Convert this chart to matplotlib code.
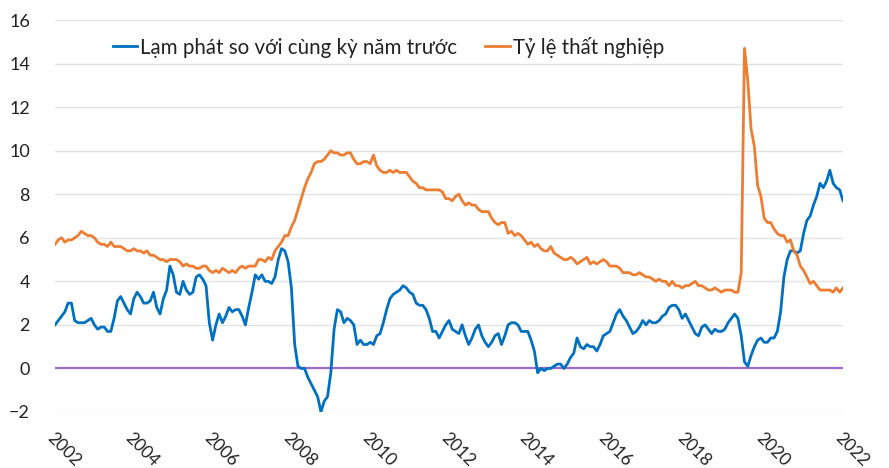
import matplotlib.pyplot as plt
import numpy as np

# Monthly data, Oct 2002 .. Oct 2022 (category axis labelled 2002..2022)
inflation = [
    2.0, 2.2, 2.4,
    2.6, 3.0, 3.0, 2.2, 2.1, 2.1, 2.1, 2.2, 2.3, 2.0, 1.8, 1.9,
    1.9, 1.7, 1.7, 2.3, 3.1, 3.3, 3.0, 2.7, 2.5, 3.2, 3.5, 3.3,
    3.0, 3.0, 3.1, 3.5, 2.8, 2.5, 3.2, 3.6, 4.7, 4.3, 3.5, 3.4,
    4.0, 3.6, 3.4, 3.5, 4.2, 4.3, 4.1, 3.8, 2.1, 1.3, 2.0, 2.5,
    2.1, 2.4, 2.8, 2.6, 2.7, 2.7, 2.4, 2.0, 2.8, 3.5, 4.3, 4.1,
    4.3, 4.0, 4.0, 3.9, 4.2, 5.0, 5.5, 5.4, 4.9, 3.7, 1.1, 0.1,
    0.0, 0.0, -0.4, -0.7, -1.0, -1.3, -2.0, -1.5, -1.3, -0.2, 1.8, 2.7,
    2.6, 2.1, 2.3, 2.2, 2.0, 1.1, 1.3, 1.1, 1.1, 1.2, 1.1, 1.5,
    1.6, 2.1, 2.7, 3.2, 3.4, 3.5, 3.6, 3.8, 3.7, 3.5, 3.4, 3.0,
    2.9, 2.9, 2.7, 2.3, 1.7, 1.7, 1.4, 1.7, 2.0, 2.2, 1.8, 1.7,
    1.6, 2.0, 1.5, 1.1, 1.4, 1.8, 2.0, 1.5, 1.2, 1.0, 1.2, 1.5,
    1.6, 1.1, 1.5, 2.0, 2.1, 2.1, 2.0, 1.7, 1.7, 1.7, 1.3, 0.8,
    -0.2, 0.0, -0.1, 0.0, 0.0, 0.1, 0.2, 0.2, 0.0, 0.2, 0.5, 0.7,
    1.4, 1.0, 0.9, 1.1, 1.0, 1.0, 0.8, 1.1, 1.5, 1.6, 1.7, 2.1,
    2.5, 2.7, 2.4, 2.2, 1.9, 1.6, 1.7, 1.9, 2.2, 2.0, 2.2, 2.1,
    2.1, 2.2, 2.4, 2.5, 2.8, 2.9, 2.9, 2.7, 2.3, 2.5, 2.2, 1.9,
    1.6, 1.5, 1.9, 2.0, 1.8, 1.6, 1.8, 1.7, 1.7, 1.8, 2.1, 2.3,
    2.5, 2.3, 1.5, 0.3, 0.1, 0.6, 1.0, 1.3, 1.4, 1.2, 1.2, 1.4,
    1.4, 1.7, 2.6, 4.2, 5.0, 5.4, 5.4, 5.3, 5.4, 6.2, 6.8, 7.0,
    7.5, 7.9, 8.5, 8.3, 8.6, 9.1, 8.5, 8.3, 8.2, 7.7,
]
unemployment = [
    5.7, 5.9, 6.0,
    5.8, 5.9, 5.9, 6.0, 6.1, 6.3, 6.2, 6.1, 6.1, 6.0, 5.8, 5.7,
    5.7, 5.6, 5.8, 5.6, 5.6, 5.6, 5.5, 5.4, 5.4, 5.5, 5.4, 5.4,
    5.3, 5.4, 5.2, 5.2, 5.1, 5.0, 5.0, 4.9, 5.0, 5.0, 5.0, 4.9,
    4.7, 4.8, 4.7, 4.7, 4.6, 4.6, 4.7, 4.7, 4.5, 4.4, 4.5, 4.4,
    4.6, 4.5, 4.4, 4.5, 4.4, 4.6, 4.7, 4.6, 4.7, 4.7, 4.7, 5.0,
    5.0, 4.9, 5.1, 5.0, 5.4, 5.6, 5.8, 6.1, 6.1, 6.5, 6.8, 7.3,
    7.8, 8.3, 8.7, 9.0, 9.4, 9.5, 9.5, 9.6, 9.8, 10.0, 9.9, 9.9,
    9.8, 9.8, 9.9, 9.9, 9.6, 9.4, 9.4, 9.5, 9.5, 9.4, 9.8, 9.3,
    9.1, 9.0, 9.0, 9.1, 9.0, 9.1, 9.0, 9.0, 9.0, 8.8, 8.6, 8.5,
    8.3, 8.3, 8.2, 8.2, 8.2, 8.2, 8.2, 8.1, 7.8, 7.8, 7.7, 7.9,
    8.0, 7.7, 7.5, 7.6, 7.5, 7.5, 7.3, 7.2, 7.2, 7.2, 6.9, 6.7,
    6.6, 6.7, 6.7, 6.2, 6.3, 6.1, 6.2, 6.1, 5.9, 5.7, 5.8, 5.6,
    5.7, 5.5, 5.4, 5.4, 5.6, 5.3, 5.2, 5.1, 5.0, 5.0, 5.1, 5.0,
    4.8, 4.9, 5.0, 5.1, 4.8, 4.9, 4.8, 4.9, 5.0, 4.9, 4.7, 4.7,
    4.7, 4.6, 4.4, 4.4, 4.4, 4.3, 4.3, 4.4, 4.3, 4.2, 4.2, 4.1,
    4.0, 4.1, 4.0, 4.0, 3.8, 4.0, 3.8, 3.8, 3.7, 3.8, 3.8, 3.9,
    4.0, 3.8, 3.8, 3.7, 3.6, 3.6, 3.7, 3.6, 3.5, 3.6, 3.6, 3.6,
    3.5, 3.5, 4.4, 14.7, 13.2, 11.0, 10.2, 8.4, 7.9, 6.9, 6.7, 6.7,
    6.4, 6.2, 6.1, 6.1, 5.8, 5.9, 5.4, 5.2, 4.7, 4.5, 4.2, 3.9,
    4.0, 3.8, 3.6, 3.6, 3.6, 3.6, 3.5, 3.7, 3.5, 3.7,
]
year_labels = ['2002', '2004', '2006', '2008', '2010', '2012',
               '2014', '2016', '2018', '2020', '2022']
label_infl = 'Lạm phát so với cùng kỳ năm trước'
label_unemp = 'Tỷ lệ thất nghiệp'

plt.rcParams['font.family'] = ['Lato', 'DejaVu Sans']

x = np.arange(len(inflation))
tick_pos = np.arange(0, len(inflation), 24)

fig = plt.figure(figsize=(8.89, 4.68), dpi=100)
ax = fig.add_axes([55 / 889, 1 - 412 / 468, 788 / 889, 392 / 468])

ax.plot(x, inflation, color='#0070C0', lw=2.0, label=label_infl)
ax.plot(x, unemployment, color='#ED7D31', lw=2.0, label=label_unemp)
ax.axhline(0, color='#9E6BC9', lw=1.6, zorder=1)

ax.set_xlim(0, len(inflation) - 1)
ax.set_ylim(-2, 16)
ax.set_yticks(np.arange(-2, 17, 2))
ax.yaxis.grid(True, color='#E3E3E3', lw=1.0)
ax.set_axisbelow(True)
for s in ax.spines.values():
    s.set_visible(False)
ax.tick_params(axis='both', length=0, labelsize=13, colors='#222222')
ax.tick_params(axis='y', pad=18)
ax.tick_params(axis='x', pad=13, labelsize=12.5)

ax.set_xticks(tick_pos)
ax.set_xticklabels(year_labels, rotation=-45, ha='left', va='top',
                   rotation_mode='anchor')

ax.legend(loc='upper center', bbox_to_anchor=(0.423, 1.005), ncol=2,
          frameon=False, fontsize=14.8, handlelength=1.2, handletextpad=0.15,
          columnspacing=1.35, labelcolor='#222222')

fig.savefig('out.png', dpi=100)
